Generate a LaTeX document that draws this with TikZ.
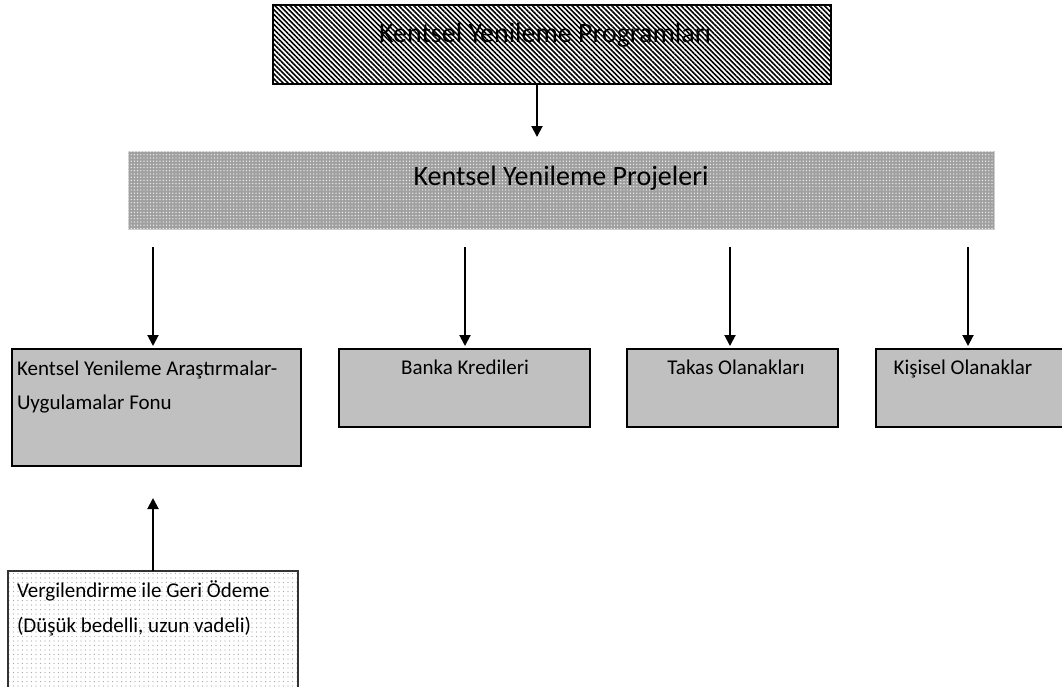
\documentclass[tikz,border=0pt]{standalone}
\usepackage{fontspec}
\setmainfont{Carlito}
\usetikzlibrary{arrows.meta,patterns,patterns.meta}
\definecolor{boxgray}{HTML}{C0C0C0}
\definecolor{dotgray}{HTML}{A0A0A0}
\tikzset{
  every node/.style={inner sep=0pt, outer sep=0pt},
  hatchbox/.style={draw=black, line width=1.6pt, rectangle, anchor=north west,
    pattern={Lines[angle=-45, distance=3.5pt, line width=1.6pt]}, pattern color=black},
  gridbox/.style={draw=boxgray!80, line width=1pt, rectangle, anchor=north west, fill=dotgray,
    postaction={pattern={Dots[distance=3.2pt, radius=0.7pt]}, pattern color=white!90!gray}},
  greybox/.style={draw=black, line width=1.6pt, rectangle, anchor=north west, fill=boxgray},
  dotbox/.style={rectangle, anchor=north west, fill=white,
    postaction={pattern={Dots[distance=4.5pt, radius=0.6pt]}, pattern color=gray!70}},
  bigtxt/.style={font=\fontsize{28}{34}\selectfont, anchor=base},
  smalltxt/.style={font=\fontsize{21}{25}\selectfont},
  arr/.style={line width=2pt, -{Triangle[length=11pt, width=11pt]}},
}
\begin{document}
\begin{tikzpicture}[x=1pt, y=-1pt]
\useasboundingbox (0,0) rectangle (1062,686);

% top box
\node[hatchbox, minimum width=558pt, minimum height=79pt] (prog) at (273,5) {};
\node[bigtxt] (progtxt) at (545,42) {Kentsel Yenileme Programları};

% second box
\node[gridbox, minimum width=866pt, minimum height=78pt] (proj) at (128,151) {};
\node[bigtxt] (projtxt) at (561,185) {Kentsel Yenileme Projeleri};

% row of boxes
\node[greybox, minimum width=289pt, minimum height=117pt] (fund) at (12,349) {};
\node[greybox, minimum width=251pt, minimum height=78pt] (bank) at (339,349) {};
\node[greybox, minimum width=211pt, minimum height=78pt] (takas) at (627,349) {};
\node[greybox, minimum width=190pt, minimum height=78pt] (kisi) at (876,349) {};

\node[smalltxt, anchor=base west] (fundA) at (17,375) {Kentsel Yenileme Araştırmalar-};
\node[smalltxt, anchor=base west] (fundB) at (17,409) {Uygulamalar Fonu};
\node[smalltxt, anchor=base] (banktxt) at (465,374) {Banka Kredileri};
\node[smalltxt, anchor=base] (takastxt) at (736,374) {Takas Olanakları};
\node[smalltxt, anchor=base] (kisitxt) at (963,374) {Kişisel Olanaklar};

% bottom box
\node[dotbox, minimum width=290pt, minimum height=120pt] (vergi) at (8,571) {};
\draw[line width=1.2pt, draw=black!80] (8,692) -- (vergi.north west) -- (vergi.north east) -- (298,692);
\node[smalltxt, anchor=base west] (vergiA) at (17,597) {Vergilendirme ile Geri Ödeme};
\node[smalltxt, anchor=base west] (vergiB) at (17,632) {(Düşük bedelli, uzun vadeli)};

% connector coordinates
\coordinate (t0) at (537,137);
\coordinate (s1) at (153,247);
\coordinate (s2) at (465,247);
\coordinate (s3) at (730,247);
\coordinate (s4) at (968,247);
\coordinate (t1) at (153,346);
\coordinate (t2) at (465,346);
\coordinate (t3) at (730,346);
\coordinate (t4) at (968,346);
\coordinate (t5) at (153,498);

% connectors
\draw[arr] (prog.south -| t0) -- (t0);
\draw[arr] (s1) -- (t1);
\draw[arr] (s2) -- (t2);
\draw[arr] (s3) -- (t3);
\draw[arr] (s4) -- (t4);
\draw[arr] (vergi.north -| t5) -- (t5);
\end{tikzpicture}
\end{document}
